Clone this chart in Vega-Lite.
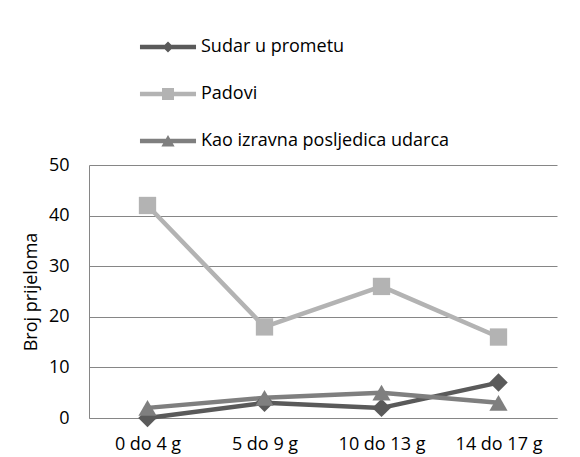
{
  "$schema": "https://vega.github.io/schema/vega-lite/v6.json",
  "width": 468,
  "height": 253,
  "autosize": {"type": "none"},
  "padding": {"left": 89, "top": 165, "right": 23, "bottom": 39},
  "background": "white",
  "config": {
    "view": {"stroke": null},
    "font": "Open Sans",
    "axis": {"labelFont": "Open Sans", "titleFont": "Open Sans", "labelColor": "#000000", "titleColor": "#000000", "domainColor": "#868686", "gridColor": "#868686", "ticks": false},
    "legend": {"labelFont": "Open Sans"}
  },
  "data": {
    "values": [
      {"age": "0 do 4 g", "series": "Sudar u prometu", "v": 0},
      {"age": "5 do 9 g", "series": "Sudar u prometu", "v": 3},
      {"age": "10 do 13 g", "series": "Sudar u prometu", "v": 2},
      {"age": "14 do 17 g", "series": "Sudar u prometu", "v": 7},
      {"age": "0 do 4 g", "series": "Padovi", "v": 42},
      {"age": "5 do 9 g", "series": "Padovi", "v": 18},
      {"age": "10 do 13 g", "series": "Padovi", "v": 26},
      {"age": "14 do 17 g", "series": "Padovi", "v": 16},
      {"age": "0 do 4 g", "series": "Kao izravna posljedica udarca", "v": 2},
      {"age": "5 do 9 g", "series": "Kao izravna posljedica udarca", "v": 4},
      {"age": "10 do 13 g", "series": "Kao izravna posljedica udarca", "v": 5},
      {"age": "14 do 17 g", "series": "Kao izravna posljedica udarca", "v": 3}
    ]
  },
  "encoding": {
    "x": {
      "field": "age", "type": "ordinal",
      "sort": ["0 do 4 g", "5 do 9 g", "10 do 13 g", "14 do 17 g"],
      "scale": {"type": "point", "padding": 0.5},
      "axis": {"title": null, "labelAngle": 0, "labelFontSize": 18, "labelPadding": 17, "domainColor": "#868686", "domainWidth": 1, "grid": false}
    },
    "y": {
      "field": "v", "type": "quantitative",
      "scale": {"domain": [0, 50], "nice": false},
      "axis": {"title": "Broj prijeloma", "values": [0, 10, 20, 30, 40, 50], "labelFontSize": 18, "labelPadding": 20, "titleFontSize": 18, "titleFontWeight": "normal", "titlePadding": 8, "grid": true, "gridWidth": 1, "domainWidth": 1}
    },
    "color": {
      "field": "series", "type": "nominal",
      "scale": {"domain": ["Sudar u prometu", "Padovi", "Kao izravna posljedica udarca"], "range": ["#5a5a5a", "#b3b3b3", "#7f7f7f"]},
      "legend": {
        "title": null, "orient": "none", "legendX": 70, "legendY": -127, "direction": "vertical",
        "padding": 0, "symbolSize": 144, "labelFontSize": 18, "labelOffset": 24, "rowPadding": 29, "labelColor": "#000000",
        "labelLimit": 0, "symbolStrokeWidth": 0, "symbolOpacity": 1
      }
    }
  },
  "layer": [
    {
      "mark": {"type": "line", "strokeWidth": 4.5, "strokeJoin": "round", "strokeCap": "round"},
      "encoding": {"detail": {"field": "series"}}
    },
    {
      "transform": [{"filter": "datum.series === 'Sudar u prometu'"}],
      "mark": {"type": "point", "filled": true, "opacity": 1, "shape": "diamond", "size": 340}
    },
    {
      "transform": [{"filter": "datum.series === 'Padovi'"}],
      "mark": {"type": "point", "filled": true, "opacity": 1, "shape": "square", "size": 300}
    },
    {
      "transform": [{"filter": "datum.series === 'Kao izravna posljedica udarca'"}],
      "mark": {"type": "point", "filled": true, "opacity": 1, "shape": "triangle-up", "size": 330}
    },
    {
      "transform": [{"filter": "datum.v < 0"}],
      "mark": {"type": "point", "filled": true, "opacity": 1},
      "encoding": {
        "shape": {
          "field": "series", "type": "nominal",
          "scale": {
            "domain": ["Sudar u prometu", "Padovi", "Kao izravna posljedica udarca"],
            "range": [
              "M-4.67,-0.37 H4.67 V0.37 H-4.67 Z M0,-0.92 L0.92,0 L0,0.92 L-0.92,0 Z",
              "M-4.67,-0.37 H4.67 V0.37 H-4.67 Z M-1,-1 H1 V1 H-1 Z",
              "M-4.67,-0.37 H4.67 V0.37 H-4.67 Z M0,-1 L1.1,0.9 L-1.1,0.9 Z"
            ]
          },
          "legend": {
            "title": null, "orient": "none", "legendX": 70, "legendY": -127, "direction": "vertical",
            "padding": 0, "symbolSize": 144, "labelFontSize": 18, "labelOffset": 24, "rowPadding": 29, "labelColor": "#000000",
            "labelLimit": 0, "symbolStrokeWidth": 0, "symbolOpacity": 1
          }
        }
      }
    }
  ]
}
